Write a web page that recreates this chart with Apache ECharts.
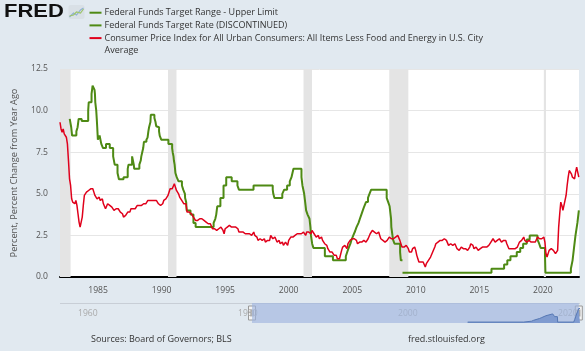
<!DOCTYPE html>
<html>
<head>
<meta charset="utf-8">
<script src="https://cdn.jsdelivr.net/npm/echarts@6/dist/echarts.min.js"></script>
<style>
html, body { margin: 0; padding: 0; background: #e1e9f0; }
#chart_fred { width: 585px; height: 351px; }
</style>
</head>
<body>
<div id="chart_fred"></div>
<script>
var chart_fred = echarts.init(document.getElementById("chart_fred"));

// 核心CPI同比，月度，1982-01起
var cpiStart = 1982;
var cpiValues = [
    9.3, 8.9, 8.7, 8.9, 8.6, 8.5, 8.4, 8.0, 7.0, 5.9, 5.5, 4.7,
    4.5, 4.6, 4.4, 4.6, 4.3, 3.8, 3.3, 3.0, 3.1, 3.6, 4.3, 4.9,
    5.0, 5.1, 5.0, 5.2, 5.3, 5.3, 5.2, 5.3, 5.1, 4.9, 4.8, 4.7,
    4.6, 4.8, 4.6, 4.5, 4.7, 4.4, 4.3, 4.1, 4.2, 4.4, 4.3, 4.3,
    4.3, 4.2, 4.2, 4.0, 4.0, 4.1, 4.0, 4.1, 4.0, 3.9, 3.8, 3.8,
    3.6, 3.6, 3.7, 3.8, 3.9, 4.0, 3.9, 4.1, 4.0, 4.1, 4.2, 4.1,
    4.2, 4.3, 4.2, 4.3, 4.4, 4.3, 4.4, 4.4, 4.5, 4.4, 4.5, 4.6,
    4.5, 4.6, 4.6, 4.6, 4.7, 4.6, 4.6, 4.6, 4.5, 4.4, 4.3, 4.3,
    4.4, 4.4, 4.6, 4.6, 4.7, 4.8, 4.9, 5.0, 5.3, 5.2, 5.3, 5.2,
    5.6, 5.6, 5.2, 5.1, 5.0, 4.8, 4.7, 4.6, 4.5, 4.4, 4.5, 4.4,
    3.9, 3.8, 3.9, 3.9, 3.8, 3.8, 3.6, 3.5, 3.4, 3.5, 3.4, 3.3,
    3.5, 3.4, 3.5, 3.5, 3.4, 3.4, 3.3, 3.3, 3.2, 3.1, 3.2, 3.2,
    2.9, 2.9, 2.9, 2.8, 2.8, 2.9, 2.9, 2.9, 3.0, 2.9, 2.8, 2.6,
    2.9, 3.0, 3.0, 3.1, 3.1, 3.0, 3.0, 2.9, 3.0, 3.0, 3.0, 3.0,
    2.9, 2.7, 2.7, 2.7, 2.7, 2.7, 2.6, 2.6, 2.7, 2.6, 2.6, 2.6,
    2.5, 2.5, 2.5, 2.7, 2.5, 2.4, 2.4, 2.2, 2.2, 2.3, 2.2, 2.2,
    2.2, 2.3, 2.1, 2.1, 2.2, 2.2, 2.2, 2.5, 2.5, 2.3, 2.3, 2.4,
    2.4, 2.1, 2.1, 2.2, 2.0, 2.1, 2.1, 1.9, 2.0, 2.1, 2.0, 1.9,
    2.2, 2.2, 2.4, 2.3, 2.4, 2.5, 2.5, 2.6, 2.6, 2.5, 2.6, 2.6,
    2.6, 2.7, 2.7, 2.6, 2.5, 2.7, 2.7, 2.7, 2.6, 2.6, 2.8, 2.7,
    2.6, 2.6, 2.4, 2.5, 2.5, 2.3, 2.2, 2.4, 2.2, 2.2, 2.0, 1.9,
    1.9, 1.7, 1.7, 1.5, 1.6, 1.5, 1.5, 1.3, 1.2, 1.3, 1.1, 1.1,
    1.1, 1.2, 1.6, 1.8, 1.7, 1.9, 1.8, 1.7, 2.0, 2.0, 2.2, 2.2,
    2.3, 2.4, 2.3, 2.2, 2.2, 2.0, 2.1, 2.1, 2.0, 2.1, 2.1, 2.2,
    2.1, 2.1, 2.1, 2.3, 2.4, 2.6, 2.7, 2.8, 2.9, 2.7, 2.6, 2.6,
    2.7, 2.7, 2.5, 2.3, 2.2, 2.2, 2.2, 2.1, 2.1, 2.2, 2.3, 2.4,
    2.5, 2.3, 2.4, 2.3, 2.3, 2.4, 2.5, 2.5, 2.5, 2.2, 2.0, 1.8,
    1.7, 1.8, 1.8, 1.9, 1.8, 1.7, 1.5, 1.4, 1.5, 1.7, 1.7, 1.8,
    1.6, 1.3, 1.1, 0.9, 0.9, 0.9, 0.9, 0.9, 0.8, 0.6, 0.8, 0.8,
    1.0, 1.1, 1.2, 1.3, 1.5, 1.6, 1.8, 2.0, 2.0, 2.1, 2.2, 2.2,
    2.3, 2.2, 2.3, 2.3, 2.3, 2.2, 2.1, 1.9, 2.0, 2.0, 1.9, 1.9,
    1.9, 2.0, 1.9, 1.7, 1.7, 1.6, 1.7, 1.8, 1.7, 1.7, 1.7, 1.7,
    1.6, 1.6, 1.7, 1.8, 2.0, 1.9, 1.9, 1.7, 1.7, 1.8, 1.7, 1.6,
    1.6, 1.7, 1.8, 1.8, 1.7, 1.8, 1.8, 1.8, 1.9, 1.9, 2.0, 2.1,
    2.2, 2.3, 2.2, 2.1, 2.2, 2.2, 2.2, 2.3, 2.2, 2.1, 2.1, 2.2,
    2.3, 2.2, 2.0, 1.9, 1.7, 1.7, 1.7, 1.7, 1.7, 1.8, 1.7, 1.8,
    1.8, 1.8, 2.1, 2.1, 2.2, 2.3, 2.4, 2.2, 2.2, 2.1, 2.2, 2.2,
    2.2, 2.1, 2.0, 2.1, 2.0, 2.1, 2.2, 2.4, 2.4, 2.3, 2.3, 2.3,
    2.3, 2.4, 2.1, 1.4, 1.2, 1.2, 1.6, 1.7, 1.7, 1.6, 1.6, 1.6,
    1.4, 1.3, 1.6, 3.0, 3.8, 4.5, 4.3, 4.0, 4.0, 4.6, 4.9, 5.5,
    6.0, 6.4, 6.5, 6.2, 6.0, 5.9, 5.9, 6.3, 6.6, 6.3, 6.0
];

// 联邦基金目标利率（已停止），变动日期
var ffDates = [
    '1982-10-07', '1982-11-19', '1982-12-14',
    '1983-04-15', '1983-05-20', '1983-06-20', '1983-09-15',
    '1984-03-20', '1984-04-05', '1984-06-25', '1984-07-10', '1984-07-25',
    '1984-09-20', '1984-10-01', '1984-10-11', '1984-11-08', '1984-11-23',
    '1984-12-06', '1984-12-18', '1984-12-24',
    '1985-02-13', '1985-04-01', '1985-05-20', '1985-08-15', '1985-12-01',
    '1986-03-07', '1986-04-21', '1986-07-11', '1986-08-21',
    '1987-01-01', '1987-04-30', '1987-05-22', '1987-09-04', '1987-10-22', '1987-11-04',
    '1988-03-30', '1988-05-09', '1988-05-25', '1988-06-22', '1988-07-19',
    '1988-08-09', '1988-10-20', '1988-11-22', '1988-12-15',
    '1989-01-05', '1989-02-14', '1989-02-24', '1989-06-06', '1989-07-07',
    '1989-07-27', '1989-08-10', '1989-10-18', '1989-11-06', '1989-12-20',
    '1990-07-13', '1990-10-29', '1990-11-14', '1990-12-07', '1990-12-19',
    '1991-01-09', '1991-02-01', '1991-03-08', '1991-04-30', '1991-08-06',
    '1991-09-13', '1991-10-31', '1991-11-06', '1991-12-06', '1991-12-20',
    '1992-04-09', '1992-07-02', '1992-09-04',
    '1994-02-04', '1994-03-22', '1994-04-18', '1994-05-17', '1994-08-16', '1994-11-15',
    '1995-02-01', '1995-07-06', '1995-12-19', '1996-01-31', '1997-03-25',
    '1998-09-29', '1998-10-15', '1998-11-17',
    '1999-06-30', '1999-08-24', '1999-11-16',
    '2000-02-02', '2000-03-21', '2000-05-16',
    '2001-01-03', '2001-01-31', '2001-03-20', '2001-04-18', '2001-05-15',
    '2001-06-27', '2001-08-21', '2001-09-17', '2001-10-02', '2001-11-06', '2001-12-11',
    '2002-11-06', '2003-06-25',
    '2004-06-30', '2004-08-10', '2004-09-21', '2004-11-10', '2004-12-14',
    '2005-02-02', '2005-03-22', '2005-05-03', '2005-06-30', '2005-08-09',
    '2005-09-20', '2005-11-01', '2005-12-13',
    '2006-01-31', '2006-03-28', '2006-05-10', '2006-06-29',
    '2007-09-18', '2007-10-31', '2007-12-11',
    '2008-01-22', '2008-01-30', '2008-03-18', '2008-04-30', '2008-10-08',
    '2008-10-29', '2008-12-15'
];
var ffRates = [
    9.5, 9.0, 8.5,
    8.75, 9.0, 9.5, 9.375,
    10.0, 10.5, 11.0, 11.25, 11.5,
    11.25, 11.0, 10.5, 10.0, 9.5,
    9.0, 8.5, 8.25,
    8.5, 8.0, 7.75, 8.0, 7.75,
    7.25, 6.75, 6.25, 5.875,
    6.0, 6.5, 6.75, 7.25, 6.75, 6.5,
    6.75, 7.0, 7.25, 7.5, 7.75,
    8.125, 8.25, 8.375, 8.75,
    9.0, 9.3125, 9.75, 9.5625, 9.3125,
    9.0625, 9.0, 8.75, 8.5, 8.25,
    8.0, 7.75, 7.5, 7.25, 7.0,
    6.75, 6.25, 6.0, 5.75, 5.5,
    5.25, 5.0, 4.75, 4.5, 4.0,
    3.75, 3.25, 3.0,
    3.25, 3.5, 3.75, 4.25, 4.75, 5.5,
    6.0, 5.75, 5.5, 5.25, 5.5,
    5.25, 5.0, 4.75,
    5.0, 5.25, 5.5,
    5.75, 6.0, 6.5,
    6.0, 5.5, 5.0, 4.5, 4.0,
    3.75, 3.5, 3.0, 2.5, 2.0, 1.75,
    1.25, 1.0,
    1.25, 1.5, 1.75, 2.0, 2.25,
    2.5, 2.75, 3.0, 3.25, 3.5,
    3.75, 4.0, 4.25,
    4.5, 4.75, 5.0, 5.25,
    4.75, 4.5, 4.25,
    3.5, 3.0, 2.25, 2.0, 1.5,
    1.0, 1.0
];

// 联邦基金目标区间上限，变动日期
var upperDates = [
    '2008-12-16', '2015-12-17', '2016-12-15', '2017-03-16', '2017-06-15',
    '2017-12-14', '2018-03-22', '2018-06-14', '2018-09-27', '2018-12-20',
    '2019-08-01', '2019-09-19', '2019-10-31', '2020-03-04', '2020-03-16',
    '2022-03-17', '2022-05-05', '2022-06-16', '2022-07-28', '2022-09-22',
    '2022-11-03', '2022-11-08'
];
var upperRates = [
    0.25, 0.5, 0.75, 1.0, 1.25,
    1.5, 1.75, 2.0, 2.25, 2.5,
    2.25, 2.0, 1.75, 1.25, 0.25,
    0.5, 1.0, 1.75, 2.5, 3.25,
    4.0, 4.0
];

// 衰退区间
var recessionStart = ['1981-07-01', '1990-07-01', '2001-03-01', '2007-12-01', '2020-02-01'];
var recessionEnd = ['1982-11-01', '1991-03-01', '2001-11-01', '2009-06-01', '2020-04-01'];

var xTicks = [1985, 1990, 1995, 2000, 2005, 2010, 2015, 2020];
var navTicks = [1960, 1980, 2000, 2020];

var nameUpper = 'Federal Funds Target Range - Upper Limit';
var nameRate = 'Federal Funds Target Rate (DISCONTINUED)';
var nameCpi = 'Consumer Price Index for All Urban Consumers: All Items Less Food and Energy in U.S. City Average';

var xMin = 1982.0, xMax = 2022.85;
var navMin = 1958, navMax = 2023;

function decYear(s) {
    var p = s.split('-');
    return +p[0] + (p[1] - 1) / 12 + (p[2] - 1) / 365;
}

var cpiData = cpiValues.map(function (v, i) { return [cpiStart + i / 12, v]; });
var ffData = ffDates.map(function (d, i) { return [decYear(d), ffRates[i]]; });
var upperData = upperDates.map(function (d, i) { return [decYear(d), upperRates[i]]; });
var recessionAreas = recessionStart.map(function (d, i) {
    return [{ xAxis: Math.max(decYear(d), xMin) }, { xAxis: decYear(recessionEnd[i]) }];
});

var green = '#4e8a14';
var red = '#e0001b';
var font = 'Open Sans';

var chart_fred_option = {
    backgroundColor: '#e1e9f0',
    animation: false,
    textStyle: { fontFamily: font },
    legend: {
        orient: 'vertical',
        left: 89.5,
        top: 7.2,
        padding: 0,
        itemWidth: 12,
        itemHeight: 2,
        itemGap: 1.7,
        icon: 'rect',
        data: [nameUpper, nameRate, nameCpi],
        formatter: function (name) {
            return name === nameCpi ? name.replace(' Average', '') : name;
        },
        textStyle: { fontSize: 9, lineHeight: 11, color: '#333', fontFamily: font, padding: [0, 0, 0, -2] },
        selectedMode: false
    },
    grid: [{
        left: 60, right: 6, top: 69, bottom: 74,
        show: true, backgroundColor: '#ffffff', borderWidth: 0
    }, {
        left: 60, right: 5, top: 303, height: 20,
        show: false
    }],
    xAxis: [{
        type: 'value', gridIndex: 0, min: xMin, max: xMax,
        axisLine: { show: true, onZero: false, lineStyle: { color: '#000', width: 2 } },
        axisTick: { show: false },
        splitLine: { show: false },
        axisLabel: {
            customValues: xTicks, color: '#555', fontSize: 8.6, margin: 9,
            formatter: function (v) { return String(v); }
        }
    }, {
        type: 'value', gridIndex: 1, min: navMin, max: navMax,
        axisLine: { show: false },
        axisTick: { show: false },
        splitLine: { show: false },
        axisLabel: {
            customValues: navTicks, color: '#aaa', fontSize: 8.6, margin: -13.5,
            align: 'left', padding: [0, 0, 0, 2],
            formatter: function (v) { return String(v); }
        }
    }],
    yAxis: [{
        type: 'value', gridIndex: 0, min: 0, max: 12.5, interval: 2.5,
        name: 'Percent, Percent Change from Year Ago',
        nameLocation: 'middle', nameGap: 41,
        nameTextStyle: { color: '#555', fontSize: 9.2, fontFamily: font },
        axisLine: { show: false },
        axisTick: { show: false },
        splitLine: { lineStyle: { color: '#e6e6e6', width: 1 } },
        axisLabel: {
            color: '#555', fontSize: 8.6, margin: 12,
            formatter: function (v) { return v.toFixed(1); }
        }
    }, {
        type: 'value', gridIndex: 1, min: 0, max: 5.5,
        show: false
    }],
    series: [{
        name: nameUpper,
        type: 'line',
        step: 'end',
        data: upperData,
        showSymbol: false,
        color: green,
        lineStyle: { width: 2, color: green },
        z: 3,
        markArea: {
            silent: true,
            itemStyle: { color: '#e4e4e4' },
            data: recessionAreas
        }
    }, {
        name: nameRate,
        type: 'line',
        step: 'end',
        data: ffData,
        showSymbol: false,
        color: green,
        lineStyle: { width: 2, color: green },
        z: 3
    }, {
        name: nameCpi,
        type: 'line',
        data: cpiData,
        showSymbol: false,
        color: red,
        lineStyle: { width: 1.5, color: red },
        z: 4
    }, {
        name: 'navigator',
        type: 'line',
        step: 'end',
        xAxisIndex: 1,
        yAxisIndex: 1,
        data: upperData.concat([[navMax, 4.0]]),
        showSymbol: false,
        lineStyle: { width: 1, color: '#5577b3' },
        areaStyle: { color: '#7f9bd0', opacity: 1 },
        markArea: {
            silent: true,
            itemStyle: { color: 'rgba(160,182,222,0.65)' },
            data: [[{ xAxis: xMin }, { xAxis: xMax }]]
        },
        z: 2
    }],
    graphic: [{
        type: 'text', left: 4, top: 3,
        scaleX: 1.22,
        style: { text: 'FRED', font: '900 18px "Liberation Sans", Arial', fill: '#111' }
    }, {
        type: 'group', left: 67, top: 5,
        children: [{
            type: 'rect', shape: { x: 0, y: 0, width: 16, height: 14, r: 2 },
            style: { fill: '#d9e0e6' }
        }, {
            type: 'polyline', shape: { points: [[1, 12], [5, 8], [8, 10], [12, 5], [15, 3]] },
            style: { stroke: '#8fb1d6', lineWidth: 1.2, fill: null }
        }, {
            type: 'polyline', shape: { points: [[1, 11], [5, 10], [8, 7], [12, 8], [15, 4]] },
            style: { stroke: '#9cc46a', lineWidth: 1.2, fill: null }
        }]
    }, {
        type: 'text', x: 104.5, y: 50.7,
        style: { text: 'Average', fill: '#333', font: '9px "Open Sans"', textVerticalAlign: 'middle' }
    }, {
        type: 'text', x: 91, y: 339,
        style: { text: 'Sources: Board of Governors; BLS', fill: '#333', font: '9px "Open Sans"', textVerticalAlign: 'middle' }
    }, {
        type: 'text', x: 408, y: 339,
        style: { text: 'fred.stlouisfed.org', fill: '#333', font: '9px "Open Sans"', textVerticalAlign: 'middle' }
    }]
};

chart_fred.setOption(chart_fred_option);

// 导航条的边框和手柄
var navTopLeft = chart_fred.convertToPixel({ gridIndex: 1 }, [navMin, 5.5]);
var navBottomRight = chart_fred.convertToPixel({ gridIndex: 1 }, [navMax, 0]);
var hLeft = chart_fred.convertToPixel({ gridIndex: 1 }, [xMin, 0]);
var hRight = chart_fred.convertToPixel({ gridIndex: 1 }, [xMax, 0]);
var navMid = (navTopLeft[1] + navBottomRight[1]) / 2;

function handle(x) {
    return {
        type: 'group', x: x - 3.5, y: navMid - 7,
        children: [{
            type: 'rect', shape: { x: 0, y: 0, width: 7, height: 14 },
            style: { fill: '#f4f4f4', stroke: '#999', lineWidth: 1 }
        }, {
            type: 'line', shape: { x1: 2.5, y1: 3.5, x2: 2.5, y2: 10.5 },
            style: { stroke: '#888', lineWidth: 1 }
        }, {
            type: 'line', shape: { x1: 4.5, y1: 3.5, x2: 4.5, y2: 10.5 },
            style: { stroke: '#888', lineWidth: 1 }
        }]
    };
}

chart_fred.setOption({
    graphic: chart_fred_option.graphic.concat([{
        type: 'line',
        shape: { x1: navTopLeft[0], y1: navTopLeft[1] + 0.5, x2: navBottomRight[0], y2: navTopLeft[1] + 0.5 },
        style: { stroke: '#c8ced6', lineWidth: 1 }
    }, handle(hLeft[0]), handle(hRight[0])])
});
</script>
</body>
</html>
